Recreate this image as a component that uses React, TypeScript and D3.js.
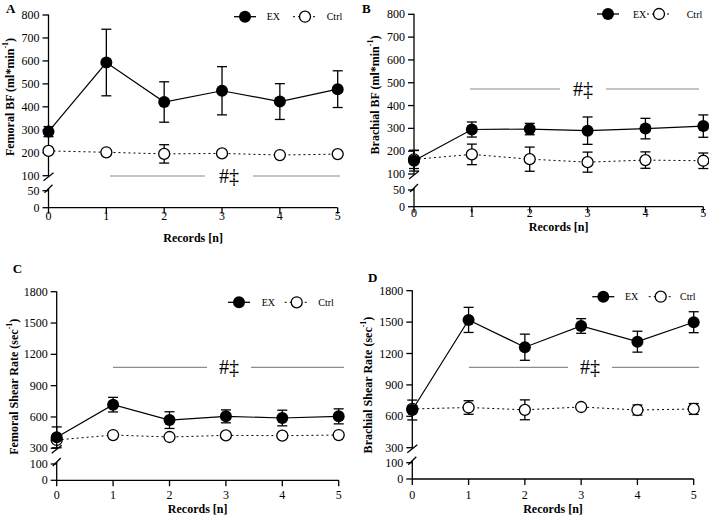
import React from "react";
import * as d3 from "d3";

// records on the x axis
const records = [0, 1, 2, 3, 4, 5];

// A: femoral blood flow
const femBfEx = [292, 593, 421, 470, 423, 477];
const femBfExErr = [22, 145, 88, 105, 78, 80];
const femBfCtrl = [208, 202, 195, 197, 190, 194];
const femBfCtrlErr = [8, 6, 40, 6, 6, 6];

// B: brachial blood flow
const brBfEx = [158, 295, 297, 290, 299, 310];
const brBfExErr = [45, 33, 25, 60, 45, 49];
const brBfCtrl = [164, 186, 165, 152, 161, 158];
const brBfCtrlErr = [40, 45, 53, 44, 36, 34];

// C: femoral shear rate
const femSrEx = [405, 718, 570, 606, 590, 606];
const femSrExErr = [100, 70, 80, 62, 75, 72];
const femSrCtrl = [380, 427, 408, 424, 421, 427];
const femSrCtrlErr = [15, 12, 12, 12, 12, 12];

// D: brachial shear rate
const brSrEx = [660, 1521, 1260, 1463, 1313, 1499];
const brSrExErr = [95, 120, 125, 70, 100, 100];
const brSrCtrl = [670, 684, 662, 689, 660, 670];
const brSrCtrlErr = [30, 65, 95, 15, 48, 52];

// tick labels
const bfUpperTicks = [100, 200, 300, 400, 500, 600, 700, 800];
const bfLowerTicks = [0, 50];
const srUpperTicks = [300, 600, 900, 1200, 1500, 1800];
const srLowerTicks = [0, 100];

const FONT = "'Liberation Serif', 'Times New Roman', 'DejaVu Serif', serif";

interface PanelProps {
  letter: string;
  letterX: number;
  letterY: number;
  yTitle: string;
  titleX: number;
  titleY: number;
  left: number;
  right: number;
  top: number;
  breakY: number;
  lowTopY: number;
  zeroY: number;
  upperTicks: number[];
  lowerTicks: number[];
  ex: number[];
  exErr: number[];
  ctrl: number[];
  ctrlErr: number[];
  legY: number;
  exX: number;
  exTextX: number;
  ctrlX: number;
  ctrlTextX: number;
  sigY: number;
  sigX1: number;
  sigX2: number;
  sigX3: number;
  sigX4: number;
  tickLabelY: number;
  xTitleY: number;
}

const Panel: React.FC<PanelProps> = (p) => {
  const x = d3.scaleLinear().domain([0, 5]).range([p.left, p.right]);
  const uMin = p.upperTicks[0];
  const uMax = p.upperTicks[p.upperTicks.length - 1];
  const yU = d3.scaleLinear().domain([uMin, uMax]).range([p.breakY, p.top]);
  const yL = d3
    .scaleLinear()
    .domain([0, p.lowerTicks[p.lowerTicks.length - 1]])
    .range([p.zeroY, p.lowTopY]);

  const line = d3
    .line<number>()
    .x((_, i) => x(records[i]))
    .y((d) => yU(d));

  const upperEnd = p.breakY + 1;
  const lowerEnd = p.lowTopY - 2;
  const cap = 5;
  const r = 6;
  const rOpen = 5.5;

  const errBars = (vals: number[], errs: number[]) =>
    vals.map((v, i) => {
      const cx = x(records[i]);
      const y1 = yU(v + errs[i]);
      const y2 = yU(v - errs[i]);
      return (
        <g key={i} stroke="#000" strokeWidth={1.3}>
          <line x1={cx} x2={cx} y1={y1} y2={y2} />
          <line x1={cx - cap} x2={cx + cap} y1={y1} y2={y1} />
          <line x1={cx - cap} x2={cx + cap} y1={y2} y2={y2} />
        </g>
      );
    });

  return (
    <g style={{ fontFamily: FONT }}>
      <text x={p.letterX} y={p.letterY} fontSize={13} fontWeight="bold">
        {p.letter}
      </text>
      <text
        transform={`translate(${p.titleX},${p.titleY}) rotate(-90)`}
        textAnchor="middle"
        dominantBaseline="central"
        fontSize={12}
        fontWeight="bold"
      >
        {p.yTitle}
        <tspan baselineShift="super" fontSize={8}>
          -1
        </tspan>
        )
      </text>

      {/* y axis, upper and lower segments with break marks */}
      <g stroke="#000" strokeWidth={1.3} fill="none">
        <line x1={p.left} x2={p.left} y1={p.top - 0.5} y2={upperEnd} />
        <line x1={p.left} x2={p.left} y1={lowerEnd} y2={p.zeroY} />
        <line x1={p.left - 5} x2={p.left + 5} y1={upperEnd + 4} y2={upperEnd - 4} />
        <line x1={p.left - 4} x2={p.left + 4} y1={lowerEnd + 4} y2={lowerEnd - 4} />
        {p.upperTicks.map((t) => (
          <line key={t} x1={p.left - 6} x2={p.left} y1={yU(t)} y2={yU(t)} />
        ))}
        {p.lowerTicks.map((t) => (
          <line key={t} x1={p.left - 6} x2={p.left} y1={yL(t)} y2={yL(t)} />
        ))}
        <line x1={p.left} x2={p.right} y1={p.zeroY} y2={p.zeroY} />
        {records.map((t) => (
          <line key={t} x1={x(t)} x2={x(t)} y1={p.zeroY} y2={p.zeroY + 6} />
        ))}
      </g>
      <g fontSize={12} textAnchor="end" dominantBaseline="central">
        {p.upperTicks.map((t) => (
          <text key={t} x={p.left - 9} y={yU(t)}>
            {t}
          </text>
        ))}
        {p.lowerTicks.map((t) => (
          <text key={t} x={p.left - 9} y={yL(t)}>
            {t}
          </text>
        ))}
      </g>
      <g fontSize={12} textAnchor="middle" dominantBaseline="central">
        {records.map((t) => (
          <text key={t} x={x(t)} y={p.tickLabelY}>
            {t}
          </text>
        ))}
      </g>
      <text
        x={(p.left + p.right) / 2}
        y={p.xTitleY}
        textAnchor="middle"
        dominantBaseline="central"
        fontSize={12}
        fontWeight="bold"
      >
        Records [n]
      </text>

      {/* significance marker */}
      <g stroke="#8c8c8c" strokeWidth={1.2}>
        <line x1={p.sigX1} x2={p.sigX2} y1={p.sigY} y2={p.sigY} />
        <line x1={p.sigX3} x2={p.sigX4} y1={p.sigY} y2={p.sigY} />
      </g>
      <text
        x={(p.sigX2 + p.sigX3) / 2}
        y={p.sigY + 7}
        textAnchor="middle"
        fontSize={20}
        fill="#000"
      >
        #‡
      </text>

      {/* control series */}
      {errBars(p.ctrl, p.ctrlErr)}
      <path d={line(p.ctrl) ?? ""} fill="none" stroke="#000" strokeWidth={1} strokeDasharray="2,3" />
      {p.ctrl.map((v, i) => (
        <circle key={i} cx={x(records[i])} cy={yU(v)} r={rOpen} fill="#fff" stroke="#000" strokeWidth={1.3} />
      ))}

      {/* exercise series */}
      {errBars(p.ex, p.exErr)}
      <path d={line(p.ex) ?? ""} fill="none" stroke="#000" strokeWidth={1.2} />
      {p.ex.map((v, i) => (
        <circle key={i} cx={x(records[i])} cy={yU(v)} r={r} fill="#000" />
      ))}

      {/* legend */}
      <line x1={p.exX - 11} x2={p.exX + 11} y1={p.legY} y2={p.legY} stroke="#000" strokeWidth={1.3} />
      <circle cx={p.exX} cy={p.legY} r={r} fill="#000" />
      <text x={p.exTextX} y={p.legY} dominantBaseline="central" fontSize={10}>
        EX
      </text>
      <line
        x1={p.ctrlX - 12}
        x2={p.ctrlX + 12}
        y1={p.legY}
        y2={p.legY}
        stroke="#000"
        strokeWidth={1}
        strokeDasharray="2,3"
      />
      <circle cx={p.ctrlX} cy={p.legY} r={rOpen} fill="#fff" stroke="#000" strokeWidth={1.3} />
      <text x={p.ctrlTextX} y={p.legY} dominantBaseline="central" fontSize={10}>
        Ctrl
      </text>
    </g>
  );
};

export default function App() {
  return (
    <svg
      width={709}
      height={516}
      style={{ position: "absolute", left: 0, top: 0, background: "#fff" }}
    >
      <rect width={709} height={516} fill="#fff" />
      <Panel
        letter="A"
        letterX={6}
        letterY={13}
        yTitle="Femoral BF (ml*min"
        titleX={10}
        titleY={97}
        left={48.5}
        right={337.7}
        top={15}
        breakY={175.7}
        lowTopY={190.7}
        zeroY={207.7}
        upperTicks={bfUpperTicks}
        lowerTicks={bfLowerTicks}
        ex={femBfEx}
        exErr={femBfExErr}
        ctrl={femBfCtrl}
        ctrlErr={femBfCtrlErr}
        legY={16.7}
        exX={245}
        exTextX={266.7}
        ctrlX={305}
        ctrlTextX={326.7}
        sigY={176}
        sigX1={110}
        sigX2={205}
        sigX3={253}
        sigX4={340}
        tickLabelY={216}
        xTitleY={237.7}
      />
      <Panel
        letter="B"
        letterX={362}
        letterY={13}
        yTitle="Brachial BF (ml*min"
        titleX={375}
        titleY={95}
        left={414}
        right={703.3}
        top={14.3}
        breakY={174}
        lowTopY={190}
        zeroY={206.7}
        upperTicks={bfUpperTicks}
        lowerTicks={bfLowerTicks}
        ex={brBfEx}
        exErr={brBfExErr}
        ctrl={brBfCtrl}
        ctrlErr={brBfCtrlErr}
        legY={14}
        exX={608}
        exTextX={633}
        ctrlX={659}
        ctrlTextX={686.7}
        sigY={89}
        sigX1={470}
        sigX2={560}
        sigX3={606}
        sigX4={699}
        tickLabelY={213.3}
        xTitleY={226.7}
      />
      <Panel
        letter="C"
        letterX={12.7}
        letterY={273}
        yTitle="Femoral Shear Rate (sec"
        titleX={13.5}
        titleY={386.7}
        left={56.7}
        right={338.7}
        top={291.7}
        breakY={448.3}
        lowTopY={464}
        zeroY={480.3}
        upperTicks={srUpperTicks}
        lowerTicks={srLowerTicks}
        ex={femSrEx}
        exErr={femSrExErr}
        ctrl={femSrCtrl}
        ctrlErr={femSrCtrlErr}
        legY={302.3}
        exX={239}
        exTextX={261.7}
        ctrlX={296.7}
        ctrlTextX={318.3}
        sigY={367.3}
        sigX1={113}
        sigX2={207}
        sigX3={251}
        sigX4={344}
        tickLabelY={494.5}
        xTitleY={508.5}
      />
      <Panel
        letter="D"
        letterX={368}
        letterY={282}
        yTitle="Brachial Shear Rate (sec"
        titleX={368}
        titleY={385}
        left={412.3}
        right={693.7}
        top={290.7}
        breakY={447.7}
        lowTopY={462.7}
        zeroY={479}
        upperTicks={srUpperTicks}
        lowerTicks={srLowerTicks}
        ex={brSrEx}
        exErr={brSrExErr}
        ctrl={brSrCtrl}
        ctrlErr={brSrCtrlErr}
        legY={296.7}
        exX={603.3}
        exTextX={625}
        ctrlX={660.7}
        ctrlTextX={680}
        sigY={367.3}
        sigX1={469}
        sigX2={568}
        sigX3={612}
        sigX4={699}
        tickLabelY={494.5}
        xTitleY={508.5}
      />
    </svg>
  );
}
